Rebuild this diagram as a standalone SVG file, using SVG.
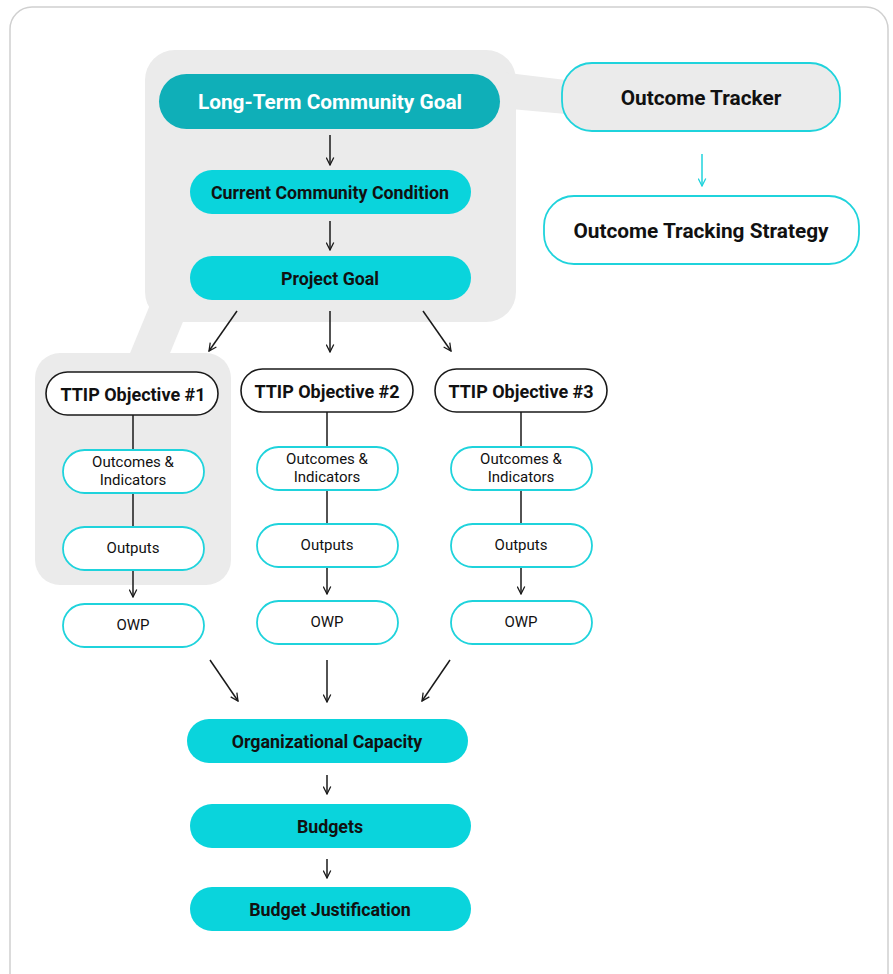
<svg xmlns="http://www.w3.org/2000/svg" width="893" height="974" viewBox="0 0 893 974">
<defs>
<style>
.frame{fill:#fff;stroke:#d0d0d0;stroke-width:1.5}
.grey{fill:#ebebeb}
.dark{fill:#0fafb8}
.cyan{fill:#0ad4dc}
.obj{fill:#fff;stroke:#1a1a1a;stroke-width:1.6}
.sub{fill:#fff;stroke:#1fd3dc;stroke-width:1.8}
.trk{fill:#ebebeb;stroke:#1fd3dc;stroke-width:1.8}
.str{fill:#fff;stroke:#1fd3dc;stroke-width:1.8}
text{font-family:Roboto,"Liberation Sans",sans-serif;text-anchor:middle;dominant-baseline:central}
.tb{font-weight:700;font-size:17.8px;fill:#111}
.to{font-weight:700;font-size:18px;fill:#111}
.tl{font-weight:700;font-size:20.8px;fill:#111}
.tw{font-weight:700;font-size:20.8px;fill:#fff}
.tr{font-weight:400;font-size:15px;fill:#111}
.ln{stroke:#1a1a1a;stroke-width:1.5;fill:none}
.ar{stroke:#1a1a1a;stroke-width:1.5;fill:none;marker-end:url(#ah)}
.arc{stroke:#1fd3dc;stroke-width:1.5;fill:none;marker-end:url(#ahc)}
</style>
<marker id="ah" viewBox="0 0 12 12" refX="11" refY="6" markerWidth="9" markerHeight="9" markerUnits="userSpaceOnUse" orient="auto"><path d="M1,1 L11,6 L1,11" fill="none" stroke="#1a1a1a" stroke-width="1.7"/></marker>
<marker id="ahc" viewBox="0 0 12 12" refX="11" refY="6" markerWidth="9" markerHeight="9" markerUnits="userSpaceOnUse" orient="auto"><path d="M1,1 L11,6 L1,11" fill="none" stroke="#1fd3dc" stroke-width="1.7"/></marker>
</defs>
<rect class="frame" x="10" y="7" width="878" height="990" rx="22"/>
<g id="highlight">
<rect class="grey" x="145" y="50" width="371" height="272" rx="30"/>
<polygon class="grey" points="500,72 566,80 566,114 500,108"/>
<polygon class="grey" points="152,300 192,300 168,358 128,358"/>
<rect class="grey" x="35" y="353" width="196" height="232" rx="25"/>
</g>
<g id="connectors">
<line class="ar" x1="330" y1="135" x2="330" y2="165"/>
<line class="ar" x1="330" y1="221" x2="330" y2="250"/>
<line class="arc" x1="702" y1="154" x2="702" y2="186"/>
<line class="ar" x1="237" y1="311" x2="209" y2="351"/>
<line class="ar" x1="330" y1="311" x2="330" y2="352"/>
<line class="ar" x1="423" y1="311" x2="451" y2="351"/>
<line class="ln" x1="133" y1="415" x2="133" y2="450"/>
<line class="ln" x1="133" y1="493" x2="133" y2="527"/>
<line class="ar" x1="133" y1="570" x2="133" y2="597"/>
<line class="ln" x1="327" y1="412" x2="327" y2="447"/>
<line class="ln" x1="327" y1="490" x2="327" y2="524"/>
<line class="ar" x1="327" y1="567" x2="327" y2="594"/>
<line class="ln" x1="521" y1="412" x2="521" y2="447"/>
<line class="ln" x1="521" y1="490" x2="521" y2="524"/>
<line class="ar" x1="521" y1="567" x2="521" y2="594"/>
<line class="ar" x1="210" y1="660" x2="238" y2="701"/>
<line class="ar" x1="327" y1="660" x2="327" y2="702"/>
<line class="ar" x1="450" y1="660" x2="422" y2="701"/>
<line class="ar" x1="327" y1="775" x2="327" y2="794"/>
<line class="ar" x1="327" y1="859" x2="327" y2="878"/>
</g>
<g id="long-term-goal"><rect class="dark" x="159" y="74" width="341" height="55" rx="27.5"/><text class="tw" x="330" y="102">Long-Term Community Goal</text></g>
<g id="current-condition"><rect class="cyan" x="190" y="170" width="281" height="44" rx="22"/><text class="tb" x="330" y="192">Current Community Condition</text></g>
<g id="project-goal"><rect class="cyan" x="190" y="256" width="281" height="44" rx="22"/><text class="tb" x="330" y="278">Project Goal</text></g>
<g id="outcome-tracker"><rect class="trk" x="562" y="63" width="278" height="68" rx="30"/><text class="tl" x="701" y="98">Outcome Tracker</text></g>
<g id="outcome-tracking-strategy"><rect class="str" x="544" y="196" width="315" height="68" rx="30"/><text class="tl" x="701" y="231">Outcome Tracking Strategy</text></g>
<g id="ttip1"><rect class="obj" x="46" y="372" width="172" height="43" rx="21.5"/><text class="to" x="133" y="394">TTIP Objective #1</text></g>
<g id="ttip2"><rect class="obj" x="241" y="369" width="172" height="43" rx="21.5"/><text class="to" x="327" y="391">TTIP Objective #2</text></g>
<g id="ttip3"><rect class="obj" x="435" y="369" width="172" height="43" rx="21.5"/><text class="to" x="521" y="391">TTIP Objective #3</text></g>
<g id="oi1"><rect class="sub" x="63" y="450" width="141" height="43" rx="21.5"/><text class="tr" x="133" y="462">Outcomes &amp;</text><text class="tr" x="133" y="480">Indicators</text></g>
<g id="oi2"><rect class="sub" x="257" y="447" width="141" height="43" rx="21.5"/><text class="tr" x="327" y="459">Outcomes &amp;</text><text class="tr" x="327" y="477">Indicators</text></g>
<g id="oi3"><rect class="sub" x="451" y="447" width="141" height="43" rx="21.5"/><text class="tr" x="521" y="459">Outcomes &amp;</text><text class="tr" x="521" y="477">Indicators</text></g>
<g id="out1"><rect class="sub" x="63" y="527" width="141" height="43" rx="21.5"/><text class="tr" x="133" y="548">Outputs</text></g>
<g id="out2"><rect class="sub" x="257" y="524" width="141" height="43" rx="21.5"/><text class="tr" x="327" y="545">Outputs</text></g>
<g id="out3"><rect class="sub" x="451" y="524" width="141" height="43" rx="21.5"/><text class="tr" x="521" y="545">Outputs</text></g>
<g id="owp1"><rect class="sub" x="63" y="604" width="141" height="43" rx="21.5"/><text class="tr" x="133" y="625">OWP</text></g>
<g id="owp2"><rect class="sub" x="257" y="601" width="141" height="43" rx="21.5"/><text class="tr" x="327" y="622">OWP</text></g>
<g id="owp3"><rect class="sub" x="451" y="601" width="141" height="43" rx="21.5"/><text class="tr" x="521" y="622">OWP</text></g>
<g id="org-capacity"><rect class="cyan" x="187" y="719" width="281" height="44" rx="22"/><text class="tb" x="327" y="741">Organizational Capacity</text></g>
<g id="budgets"><rect class="cyan" x="190" y="804" width="281" height="44" rx="22"/><text class="tb" x="330" y="826">Budgets</text></g>
<g id="budget-justification"><rect class="cyan" x="190" y="887" width="281" height="44" rx="22"/><text class="tb" x="330" y="909">Budget Justification</text></g>
</svg>
